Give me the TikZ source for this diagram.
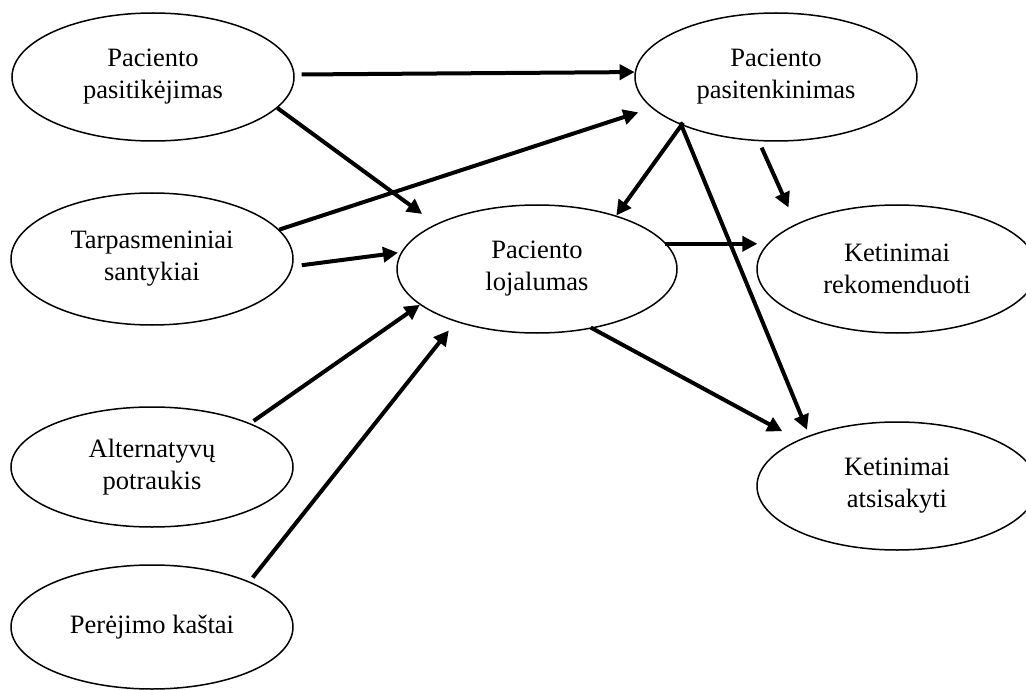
\documentclass[tikz,border=0pt]{standalone}
\usepackage{fontspec}
\setmainfont{Liberation Serif}
\usetikzlibrary{shapes.geometric,arrows.meta}
\begin{document}
\begin{tikzpicture}[x=1pt,y=-1pt,
  state/.style={ellipse,draw,line width=1.5pt,inner sep=0pt,minimum width=282pt,minimum height=128pt,align=center,font=\fontsize{26.5}{32}\selectfont},
  link/.style={line width=4pt,-{Triangle[length=15pt,width=15pt]}}]
\useasboundingbox (0,0) rectangle (1026,690);
\fill[white] (0,0) rectangle (1026,690);
\node[state] (p1) at (153,77) {Paciento\\pasitikėjimas};
\node[state,minimum height=132pt] (p2) at (152,259) {Tarpasmeniniai\\santykiai};
\node[state,minimum height=120pt] (p3) at (152,467) {Alternatyvų\\potraukis};
\node[state,minimum height=124pt] (p4) at (152,627) {Perėjimo kaštai};
\node[state] (p5) at (776,77) {Paciento\\pasitenkinimas};
\node[state,minimum width=280pt] (p6) at (537,269) {Paciento\\lojalumas};
\node[state,minimum width=280pt] (p7) at (897,269) {Ketinimai\\rekomenduoti};
\node[state,minimum width=280pt] (p8) at (897,486) {Ketinimai\\atsisakyti};
\draw[link, shorten <=7pt] (p1.1.2) -- (p5.178.8);
\draw[link, shorten >=17pt] (p1.-14) -- (p6.156);
\draw[link, shorten >=14pt] (p2.13.5) -- (p5.-166.6);
\draw[link, shorten <=9pt, shorten >=3pt] (p2.-3.1) -- (p6.173.5);
\draw[link, shorten <=4pt] (p3.24) -- (p6.-163.8);
\draw[link, shorten <=5pt, shorten >=11pt] (p4.25.9) -- (p6.-147.8);
\draw[link, shorten <=-3pt] (p5.-153.2) -- (p6.34.4);
\draw[link, shorten <=-3pt, shorten >=6pt] (p5.-153.2) -- (p8.150.1);
\draw[link, shorten <=7pt, shorten >=18pt] (p5.-105.2) -- (p7.156);
\draw[link, shorten <=-2pt, shorten >=10pt] (p6.11.75) -- (p7.169.5);
\draw[link, shorten <=-2pt, shorten >=18pt] (p6.-47.1) -- (p8.155.6);
\end{tikzpicture}
\end{document}
